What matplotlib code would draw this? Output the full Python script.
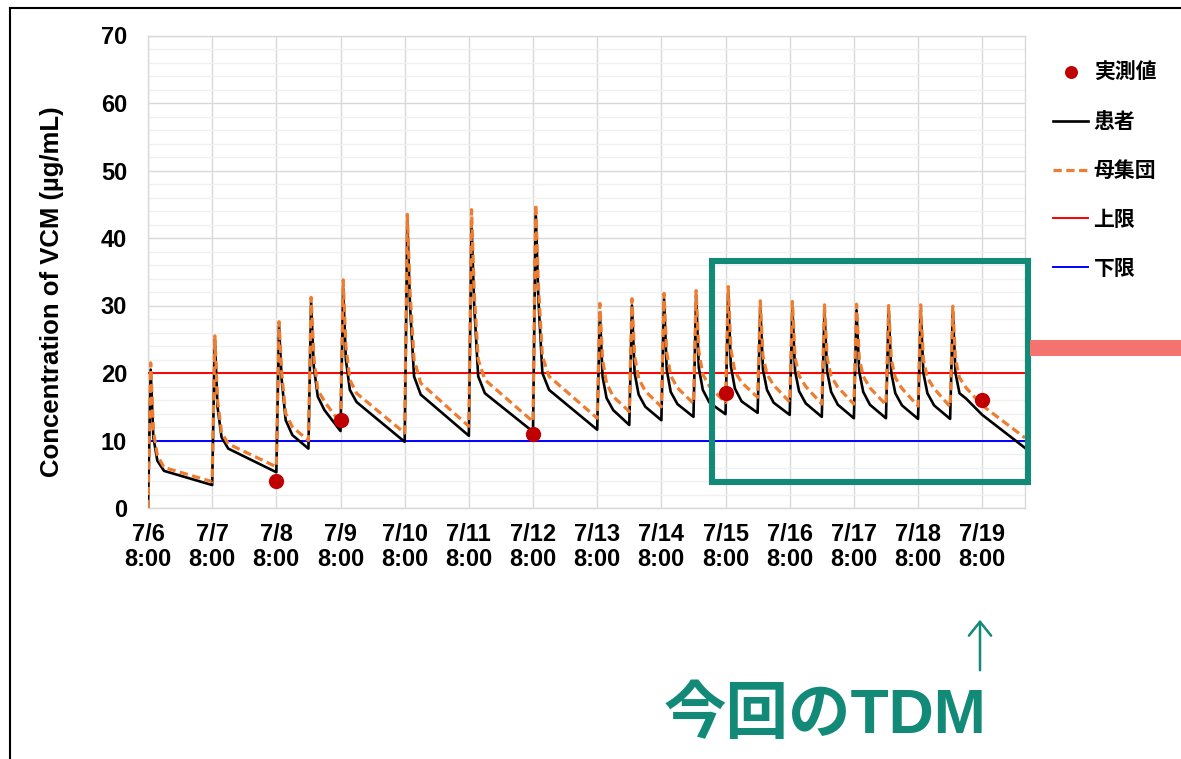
import matplotlib
matplotlib.use('Agg')
import matplotlib.pyplot as plt
from matplotlib.lines import Line2D
from matplotlib.patches import Rectangle, FancyArrowPatch

# ---------------- data ----------------
# time axis: hours since 7/6 8:00
dose_hours = [0, 24, 48, 60, 72, 96, 120, 144, 168, 180, 192, 204, 216, 228, 240, 252, 264, 276, 288, 300]
end_hour = 328
offsets_h = [1, 2, 3.5, 6]          # hours after each dose where values were read
final_mid_offset_h = 12              # extra read point in the last (long) interval

# patient (black) curve: values per dosing interval
patient_peak  = [20.5, 25.0, 27.0, 30.5, 32.5, 42.5, 42.0, 44.0, 29.0, 30.0, 31.0, 31.5, 31.8, 29.8, 29.7, 29.3, 29.3, 29.2, 29.2, 29.2]
patient_2h    = [10.5, 15.0, 19.0, 21.0, 22.0, 30.0, 30.0, 31.0, 19.5, 20.0, 20.5, 20.8, 21.0, 20.5, 20.3, 20.2, 20.2, 20.0, 20.0, 20.0]
patient_3_5h  = [7.0, 10.5, 13.0, 16.5, 17.5, 19.5, 19.5, 20.0, 16.3, 16.8, 17.2, 17.5, 17.7, 17.5, 17.3, 17.2, 17.2, 17.0, 17.0, 17.0]
patient_6h    = [5.5, 8.8, 10.8, 14.5, 15.7, 16.8, 17.0, 17.5, 14.5, 15.0, 15.4, 15.6, 15.8, 15.6, 15.5, 15.3, 15.3, 15.2, 15.2, 16.2]
patient_trough = [3.4, 5.3, 8.8, 11.4, 9.8, 10.7, 11.3, 11.6, 12.3, 13.0, 13.5, 13.9, 14.1, 13.8, 13.5, 13.3, 13.3, 13.2, 13.2, 8.9]
patient_final_mid = 13.8

# population (orange dashed) curve
population_peak  = [21.5, 25.5, 27.6, 31.2, 33.8, 43.5, 44.2, 45.0, 30.3, 31.0, 31.8, 32.2, 32.8, 30.7, 30.6, 30.1, 30.2, 30.0, 30.1, 29.9]
population_2h    = [11.5, 16.0, 20.0, 22.5, 24.0, 32.0, 32.0, 33.0, 22.0, 22.5, 23.0, 23.2, 23.5, 22.5, 22.3, 22.2, 22.2, 22.0, 22.0, 22.0]
population_3_5h  = [7.8, 11.2, 14.0, 17.5, 19.0, 22.0, 22.0, 22.5, 18.5, 19.2, 19.6, 19.8, 20.2, 19.8, 19.6, 19.5, 19.5, 19.3, 19.3, 19.3]
population_6h    = [6.0, 9.5, 12.0, 15.8, 17.0, 18.5, 19.0, 19.5, 16.5, 17.3, 17.8, 18.0, 18.6, 18.2, 18.0, 17.9, 17.8, 17.7, 17.7, 17.8]
population_trough = [3.9, 6.1, 10.0, 12.5, 11.1, 12.1, 12.8, 13.3, 14.3, 15.0, 15.5, 15.6, 16.4, 15.7, 15.4, 15.4, 15.3, 15.1, 15.0, 10.4]
population_final_mid = 15.2

# measured values (red dots)
measured_hours = [48, 72, 144, 216, 312]
measured_values = [4, 13, 11, 17, 16]

upper_limit = 20
lower_limit = 10

xtick_hours = [0, 24, 48, 72, 96, 120, 144, 168, 192, 216, 240, 264, 288, 312]
xtick_labels = ['7/6\n8:00', '7/7\n8:00', '7/8\n8:00', '7/9\n8:00', '7/10\n8:00', '7/11\n8:00',
                '7/12\n8:00', '7/13\n8:00', '7/14\n8:00', '7/15\n8:00', '7/16\n8:00', '7/17\n8:00',
                '7/18\n8:00', '7/19\n8:00']

legend_labels = ['実測値', '患者', '母集団', '上限', '下限']
ylabel_text = 'Concentration of VCM (µg/mL)'
note_text = '今回のTDM'


def build_curve(peak, v2, v35, v6, trough, final_mid):
    xs = [dose_hours[0]]
    ys = [0.0]
    n = len(dose_hours)
    for i, t0 in enumerate(dose_hours):
        t_end = dose_hours[i + 1] if i + 1 < n else end_hour
        vals = [peak[i], v2[i], v35[i], v6[i]]
        for off, v in zip(offsets_h, vals):
            xs.append(t0 + off)
            ys.append(v)
        if i == n - 1:
            xs.append(t0 + final_mid_offset_h)
            ys.append(final_mid)
        xs.append(t_end)
        ys.append(trough[i])
    return xs, ys


px_x, px_y = build_curve(patient_peak, patient_2h, patient_3_5h, patient_6h, patient_trough, patient_final_mid)
pop_x, pop_y = build_curve(population_peak, population_2h, population_3_5h, population_6h, population_trough,
                           population_final_mid)

# ---------------- figure ----------------
W, H = 1181, 759
fig = plt.figure(figsize=(W / 100, H / 100), dpi=100)
fig.patch.set_facecolor('white')

def fx(p):
    return p / W

def fy(p):
    return 1 - p / H

ax = fig.add_axes([fx(148), fy(508), fx(1025 - 148), (508 - 35.5) / H])

num_font = 'Liberation Sans'
jp_font = ['Noto Sans CJK JP', 'DejaVu Sans']
mix_font = ['Liberation Sans', 'Noto Sans CJK JP', 'DejaVu Sans']

ax.axhline(upper_limit, color='#FF0000', lw=1.4, zorder=3)
ax.axhline(lower_limit, color='#0000FF', lw=1.4, zorder=3)
l_pat, = ax.plot(px_x, px_y, color='black', lw=1.9, zorder=4)
l_pop, = ax.plot(pop_x, pop_y, color='#ED7D31', lw=2.3, dashes=(2.6, 1.4), zorder=5)
l_meas, = ax.plot(measured_hours, measured_values, 'o', color='#C00000', ms=11, zorder=6,
                  markeredgewidth=0)

ax.set_xlim(0, end_hour)
ax.set_ylim(0, 70)
ax.set_yticks(range(0, 71, 10))
ax.set_yticks(range(0, 71, 2), minor=True)
ax.set_xticks(xtick_hours)
ax.set_xticklabels(xtick_labels, linespacing=1.08)
ax.grid(which='major', axis='both', color='#D9D9D9', lw=1.0, zorder=0)
ax.grid(which='minor', axis='y', color='#F0F0F0', lw=1.0, zorder=0)
ax.set_axisbelow(True)
ax.tick_params(which='both', length=0)
ax.tick_params(axis='y', pad=15)
ax.tick_params(axis='x', pad=11)
for lab in ax.get_yticklabels() + ax.get_xticklabels():
    lab.set_fontfamily(num_font)
    lab.set_fontweight('bold')
    lab.set_fontsize(17)
for s in ax.spines.values():
    s.set_color('#D9D9D9')
    s.set_linewidth(1.0)

fig.text(fx(52), fy(292), ylabel_text, rotation=90, ha='center', va='center',
         fontsize=18.5, fontweight='bold', family=num_font)

leg = ax.legend(handles=[l_meas, l_pat, l_pop,
                         Line2D([], [], color='#FF0000', lw=1.4),
                         Line2D([], [], color='#0000FF', lw=1.4)],
                labels=legend_labels,
                loc='upper left', bbox_to_anchor=(fx(1053), fy(62)), bbox_transform=fig.transFigure,
                frameon=False, prop={'family': jp_font, 'weight': 'bold', 'size': 15},
                handlelength=1.7, handletextpad=0.25, labelspacing=1.34, markerscale=0.85,
                borderaxespad=0, borderpad=0)

teal = '#138A78'
fig.patches.append(Rectangle((fx(711.5), fy(482.5)), fx(1028 - 711.5), (482.5 - 261) / H,
                             transform=fig.transFigure, fill=False, edgecolor=teal, lw=4.4, zorder=10))
fig.patches.append(Rectangle((fx(1030), fy(356)), fx(1181 - 1030), 16 / H,
                             transform=fig.transFigure, facecolor='#F4736E', edgecolor='none', zorder=10))

fig.lines.append(Line2D([fx(10), fx(1181)], [fy(7.5), fy(7.5)], transform=fig.transFigure,
                        color='black', lw=1.5))
fig.lines.append(Line2D([fx(10), fx(10)], [fy(7.5), fy(759)], transform=fig.transFigure,
                        color='black', lw=1.5))

fig.add_artist(FancyArrowPatch((fx(980), fy(673)), (fx(980), fy(617)),
                               transform=fig.transFigure, arrowstyle='->,head_length=5,head_width=4',
                               color=teal, lw=1.8, mutation_scale=2))

fig.text(fx(825), fy(716), note_text, ha='center', va='center', fontsize=45, fontweight='bold',
         family=mix_font, color=teal)

fig.savefig('out.png', dpi=100)
